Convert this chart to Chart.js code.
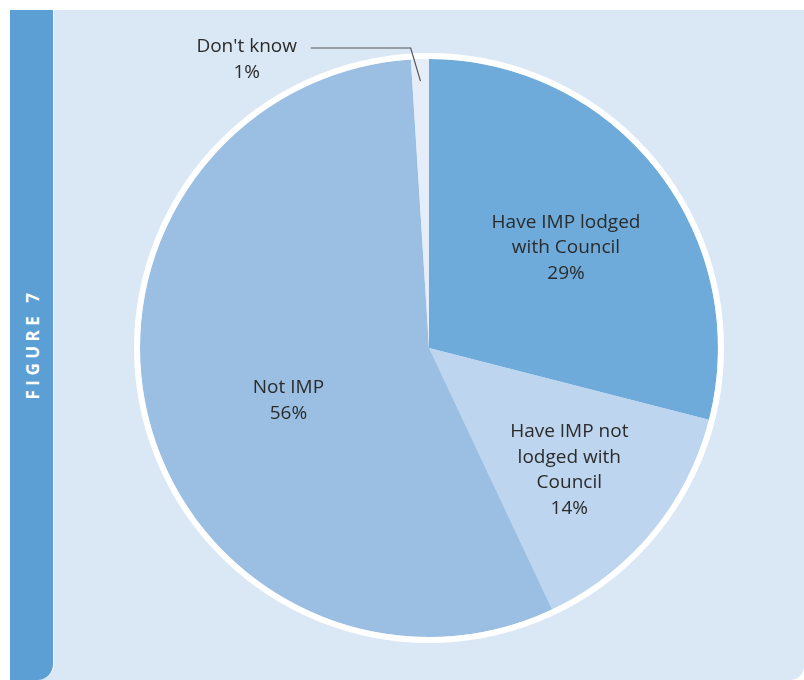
<!DOCTYPE html>
<html lang="en">
<head>
<meta charset="utf-8"/>
<title>Figure 7</title>
<script src="https://cdn.jsdelivr.net/npm/chart.js"></script>
<style>
    html, body {
        margin: 0;
        padding: 0;
        background: #ffffff;
    }
    .figure {
        position: relative;
        width: 804px;
        height: 680px;
        overflow: hidden;
    }
    .panel {
        position: absolute;
        left: 10px;
        top: 10px;
        right: 0;
        bottom: 0;
        background: #dae7f4;
        border-bottom-right-radius: 14px;
    }
    .sidebar {
        position: absolute;
        left: 10px;
        top: 10px;
        width: 43px;
        bottom: 0;
        background: #5b9fd5;
        border-right: 1px solid #ffffff;
        border-bottom-right-radius: 16px;
    }
    .sidebar span {
        position: absolute;
        left: 22px;
        top: 334px;
        transform: translate(-50%, -50%) rotate(-90deg);
        color: #ffffff;
        font-family: 'Open Sans', sans-serif;
        font-size: 17px;
        font-weight: 700;
        letter-spacing: 4.5px;
        white-space: nowrap;
    }
    #pieChart {
        position: absolute;
        left: 0;
        top: 0;
    }
</style>
</head>
<body>
<div class="figure">
    <div class="panel"></div>
    <div class="sidebar"><span>FIGURE 7</span></div>
    <canvas id="pieChart" width="804" height="680"></canvas>
</div>
<script>
    // slices, clockwise from 12 o'clock
    const categories = ['Have IMP lodged\nwith Council', 'Have IMP not\nlodged with\nCouncil', 'Not IMP', "Don't know"];
    const shares = [29, 14, 56, 1];
    const sliceColors = ['#6eabda', '#bdd5ee', '#9abfe3', '#e5eef8'];

    // label placement: fraction of the radius along the slice's middle angle, plus a small nudge
    const labelRadius = [0.6, 0.63, 0.52, null];
    const labelNudge = [[0, 6], [0, 6], [5, 15], [0, 0]];

    const labelPlugin = {
        id: 'pieLabels',
        afterDatasetsDraw(chart) {
            const ctx = chart.ctx;
            const arcs = chart.getDatasetMeta(0).data;
            const cx = arcs[0].x, cy = arcs[0].y, r = arcs[0].outerRadius;

            // white rim round the pie
            ctx.save();
            ctx.beginPath();
            ctx.arc(cx, cy, r + 3, 0, Math.PI * 2);
            ctx.strokeStyle = '#ffffff';
            ctx.lineWidth = 6;
            ctx.stroke();

            ctx.fillStyle = '#2b2b2b';
            ctx.font = '19px "Open Sans", sans-serif';
            ctx.textAlign = 'center';
            ctx.textBaseline = 'middle';
            const lineH = 25.5;

            arcs.forEach((arc, i) => {
                const lines = categories[i].split('\n').concat(shares[i] + '%');
                const mid = (arc.startAngle + arc.endAngle) / 2;
                if (labelRadius[i] !== null) {
                    const lx = cx + Math.cos(mid) * r * labelRadius[i] + labelNudge[i][0];
                    const ly = cy + Math.sin(mid) * r * labelRadius[i] + labelNudge[i][1];
                    const y0 = ly - (lines.length - 1) * lineH / 2;
                    lines.forEach((t, k) => ctx.fillText(t, lx, y0 + k * lineH));
                } else {
                    // small slice: label outside with a leader line
                    const ex = cx + Math.cos(mid) * (r - 18);
                    const ey = cy + Math.sin(mid) * (r - 22);
                    const kx = cx + Math.cos(mid) * (r + 8) - 9;
                    const ky = cy - r - 11;
                    ctx.beginPath();
                    ctx.moveTo(ex, ey);
                    ctx.lineTo(kx, ky);
                    ctx.lineTo(kx - 100, ky);
                    ctx.strokeStyle = '#555555';
                    ctx.lineWidth = 1.2;
                    ctx.stroke();
                    const lx = kx - 164;
                    const y0 = ky - 1;
                    lines.forEach((t, k) => ctx.fillText(t, lx, y0 + k * lineH));
                }
            });
            ctx.restore();
        }
    };

    const pieCtx = document.getElementById('pieChart').getContext('2d');
    const pieChart = new Chart(pieCtx, {
        type: 'pie',
        data: {
            labels: categories,
            datasets: [{
                data: shares,
                backgroundColor: sliceColors,
                borderWidth: 0
            }]
        },
        options: {
            responsive: false,
            animation: false,
            layout: {
                padding: { left: 140, right: 86, top: 59, bottom: 43 }
            },
            plugins: {
                legend: { display: false },
                tooltip: { enabled: false }
            }
        },
        plugins: [labelPlugin]
    });
</script>
</body>
</html>
